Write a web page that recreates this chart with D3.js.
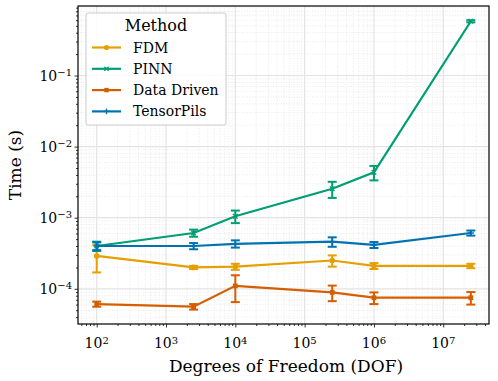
<!DOCTYPE html>
<html><head><meta charset="utf-8">
<script src="https://cdn.jsdelivr.net/npm/d3@7"></script>
<style>body{margin:0;background:#fff}svg{display:block}</style>
</head><body><div id="chart"></div>
<script>
const dof = [100, 2500, 10000, 250000, 1000000, 25000000];
const seriesNames = ["FDM", "PINN", "Data Driven", "TensorPils"];
const fdmMean = [2.9e-4, 2.0e-4, 2.05e-4, 2.5e-4, 2.1e-4, 2.1e-4];
const fdmStd  = [1.2e-4, 0.1e-4, 0.2e-4, 0.45e-4, 0.2e-4, 0.15e-4];
const pinnMean = [4.0e-4, 6.1e-4, 1.05e-3, 2.55e-3, 4.35e-3, 0.58];
const pinnStd  = [0.6e-4, 0.7e-4, 0.21e-3, 0.65e-3, 1.0e-3, 0.02];
const ddMean = [6.1e-5, 5.6e-5, 1.1e-4, 8.9e-5, 7.5e-5, 7.5e-5];
const ddStd  = [0.5e-5, 0.5e-5, 0.45e-4, 2.2e-5, 1.4e-5, 1.5e-5];
const tpMean = [4.0e-4, 4.0e-4, 4.3e-4, 4.6e-4, 4.15e-4, 6.1e-4];
const tpStd  = [0.5e-4, 0.4e-4, 0.5e-4, 0.7e-4, 0.4e-4, 0.5e-4];
const xTickExps = [2, 3, 4, 5, 6, 7];
const yTickExps = [-4, -3, -2, -1];
const colors = ["#E69F00", "#009E73", "#D55E00", "#0072B2"];
const markers = ["circle", "x", "square", "plus"];

const series = [
  {name: seriesNames[0], mean: fdmMean, std: fdmStd},
  {name: seriesNames[1], mean: pinnMean, std: pinnStd},
  {name: seriesNames[2], mean: ddMean, std: ddStd},
  {name: seriesNames[3], mean: tpMean, std: tpStd}
];

const W = 498, H = 381;
const L = 78, R = 489, T = 6, B = 324;
const serif = "DejaVu Serif";

const svg = d3.select("#chart").append("svg").attr("width", W).attr("height", H);

const x = d3.scaleLog().domain([Math.pow(10, 1.73), Math.pow(10, 7.66)]).range([L, R]);
const y = d3.scaleLog().domain([3.2e-5, 0.95]).range([B, T]);

function minors(scale) {
  const [a, b] = scale.domain();
  const out = [];
  for (let e = Math.floor(Math.log10(a)); e <= Math.ceil(Math.log10(b)); e++) {
    for (let k = 2; k <= 9; k++) {
      const v = k * Math.pow(10, e);
      if (v >= a && v <= b) out.push(v);
    }
  }
  return out;
}
const xMaj = xTickExps.map(e => Math.pow(10, e));
const yMaj = yTickExps.map(e => Math.pow(10, e));
const xMin = minors(x), yMin = minors(y);

const grid = svg.append("g");
grid.selectAll(".xmin").data(xMin).enter().append("line")
  .attr("x1", d => x(d)).attr("x2", d => x(d)).attr("y1", T).attr("y2", B)
  .attr("stroke", "#e2e2e2").attr("stroke-width", 0.7).attr("stroke-dasharray", "1,1.6");
grid.selectAll(".ymin").data(yMin).enter().append("line")
  .attr("y1", d => y(d)).attr("y2", d => y(d)).attr("x1", L).attr("x2", R)
  .attr("stroke", "#e2e2e2").attr("stroke-width", 0.7).attr("stroke-dasharray", "1,1.6");
grid.selectAll(".xmaj").data(xMaj).enter().append("line")
  .attr("x1", d => x(d)).attr("x2", d => x(d)).attr("y1", T).attr("y2", B)
  .attr("stroke", "#e3e3e3").attr("stroke-width", 1.2);
grid.selectAll(".ymaj").data(yMaj).enter().append("line")
  .attr("y1", d => y(d)).attr("y2", d => y(d)).attr("x1", L).attr("x2", R)
  .attr("stroke", "#e3e3e3").attr("stroke-width", 1.2);

const xAxis = d3.axisBottom(x).tickValues(xMaj).tickSizeInner(3.5).tickSizeOuter(0).tickFormat("");
const xAxisMin = d3.axisBottom(x).tickValues(xMin).tickSize(2).tickFormat("");
const yAxis = d3.axisLeft(y).tickValues(yMaj).tickSizeInner(3.5).tickSizeOuter(0).tickFormat("");
const yAxisMin = d3.axisLeft(y).tickValues(yMin).tickSize(2).tickFormat("");

const gx = svg.append("g").attr("transform", `translate(0,${B})`).call(xAxis);
const gxm = svg.append("g").attr("transform", `translate(0,${B})`).call(xAxisMin);
const gy = svg.append("g").attr("transform", `translate(${L},0)`).call(yAxis);
const gym = svg.append("g").attr("transform", `translate(${L},0)`).call(yAxisMin);
[gx, gxm, gy, gym].forEach(g => {
  g.select(".domain").remove();
  g.selectAll(".tick line").attr("stroke", "#000").attr("stroke-width", 0.8);
});

function supLabel(sel, e) {
  sel.append("tspan").text("10");
  sel.append("tspan").attr("dy", "-0.45em").attr("font-size", "10px")
    .text(e < 0 ? "\u2212" + Math.abs(e) : String(e));
}
xTickExps.forEach(e => {
  const t = svg.append("text").attr("x", x(Math.pow(10, e))).attr("y", B + 24)
    .attr("text-anchor", "middle").style("font-family", serif).attr("font-size", "14px").attr("fill", "#000");
  supLabel(t, e);
});
yTickExps.forEach(e => {
  const t = svg.append("text").attr("x", L - 6).attr("y", y(Math.pow(10, e)) + 5)
    .attr("text-anchor", "end").style("font-family", serif).attr("font-size", "14px").attr("fill", "#000");
  supLabel(t, e);
});

svg.append("text").attr("x", 286).attr("y", 372).attr("text-anchor", "middle")
  .style("font-family", serif).attr("font-size", "17px").text("Degrees of Freedom (DOF)");
svg.append("text").attr("transform", `translate(21,${(T + B) / 2}) rotate(-90)`).attr("text-anchor", "middle")
  .style("font-family", serif).attr("font-size", "17px").text("Time (s)");

svg.append("clipPath").attr("id", "clip").append("rect")
  .attr("x", L).attr("y", T).attr("width", R - L).attr("height", B - T);
const plot = svg.append("g").attr("clip-path", "url(#clip)");

function drawMarker(g, type, cx, cy, color, s) {
  if (type === "circle") {
    g.append("circle").attr("cx", cx).attr("cy", cy).attr("r", s).attr("fill", color);
  } else if (type === "square") {
    g.append("rect").attr("x", cx - s * 0.85).attr("y", cy - s * 0.85).attr("width", s * 1.7).attr("height", s * 1.7).attr("fill", color);
  } else if (type === "x") {
    const d = s * 0.8;
    g.append("path").attr("d", `M${cx - d},${cy - d}L${cx + d},${cy + d}M${cx - d},${cy + d}L${cx + d},${cy - d}`)
      .attr("stroke", color).attr("stroke-width", 1.3).attr("fill", "none");
  } else if (type === "plus") {
    const d = s * 1.1;
    g.append("path").attr("d", `M${cx - d},${cy}L${cx + d},${cy}M${cx},${cy - d}L${cx},${cy + d}`)
      .attr("stroke", color).attr("stroke-width", 1.3).attr("fill", "none");
  }
}

const line = d3.line().x(d => x(d[0])).y(d => y(d[1]));
series.forEach((s, i) => {
  const g = plot.append("g");
  const pts = dof.map((d, j) => [d, s.mean[j], s.std[j]]);
  g.append("path").attr("d", line(pts)).attr("fill", "none").attr("stroke", colors[i]).attr("stroke-width", 2.2);
  pts.forEach(p => {
    const cx = x(p[0]);
    const y1 = y(p[1] + p[2]), y2 = y(Math.max(p[1] - p[2], 1e-9));
    g.append("line").attr("x1", cx).attr("x2", cx).attr("y1", y1).attr("y2", y2)
      .attr("stroke", colors[i]).attr("stroke-width", 2);
    [y1, y2].forEach(yy => g.append("line").attr("x1", cx - 4.5).attr("x2", cx + 4.5).attr("y1", yy).attr("y2", yy)
      .attr("stroke", colors[i]).attr("stroke-width", 2));
    drawMarker(g, markers[i], cx, y(p[1]), colors[i], 2.8);
  });
});

svg.append("rect").attr("x", L).attr("y", T).attr("width", R - L).attr("height", B - T)
  .attr("fill", "none").attr("stroke", "#000").attr("stroke-width", 1.2);

const lg = svg.append("g");
lg.append("rect").attr("x", 86).attr("y", 13).attr("width", 140).attr("height", 112).attr("rx", 2)
  .attr("fill", "#fff").attr("fill-opacity", 0.85).attr("stroke", "#cccccc").attr("stroke-width", 1);
lg.append("text").attr("x", 156).attr("y", 31).attr("text-anchor", "middle")
  .style("font-family", serif).attr("font-size", "16px").text("Method");
seriesNames.forEach((n, i) => {
  const yy = 47.5 + i * 21.3;
  lg.append("line").attr("x1", 92).attr("x2", 121).attr("y1", yy).attr("y2", yy)
    .attr("stroke", colors[i]).attr("stroke-width", 2.2);
  drawMarker(lg, markers[i], 106.5, yy, colors[i], 2.6);
  lg.append("text").attr("x", 133).attr("y", yy + 5).style("font-family", serif).attr("font-size", "14px").text(n);
});
</script></body></html>
